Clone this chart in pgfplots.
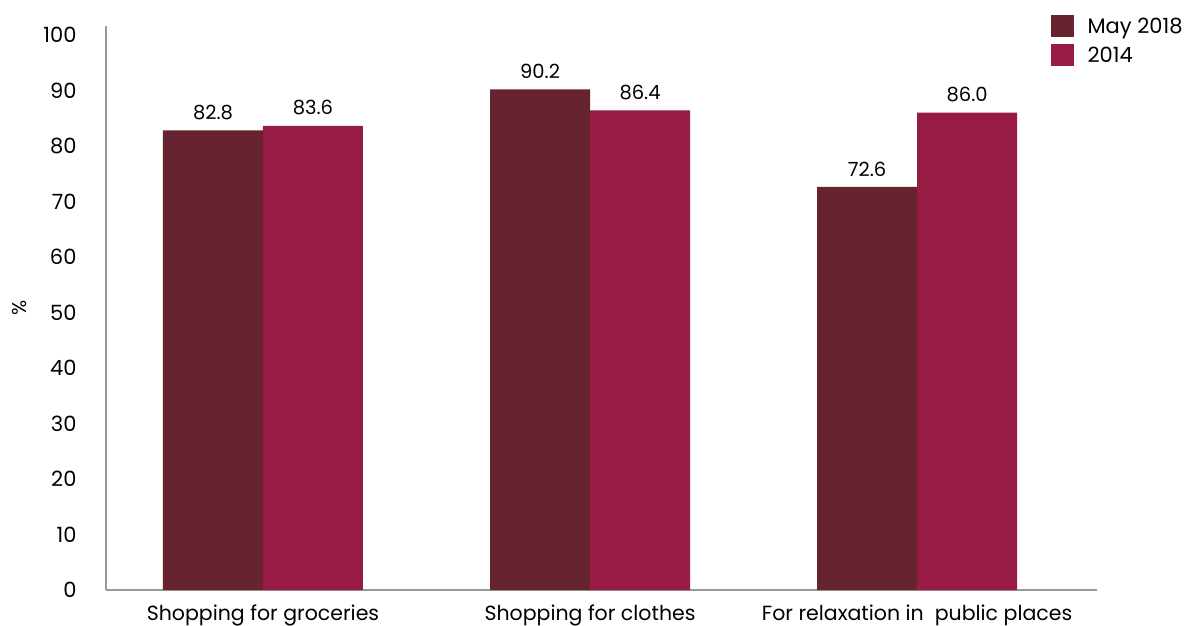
\documentclass[border=0pt]{standalone}
\usepackage{pgfplots}
\pgfplotsset{compat=1.18}
\usepackage{fontspec}
\setmainfont{Poppins}
\definecolor{darkwine}{HTML}{662330}
\definecolor{crimson}{HTML}{971B43}
\definecolor{axisgrey}{HTML}{999999}
\begin{document}
\begin{tikzpicture}
\useasboundingbox (-106pt,-35pt) rectangle (1089pt,590pt);
\begin{axis}[
  at={(0,0)}, anchor=south west,
  scale only axis,
  width=991pt, height=564pt,
  ybar=0pt, bar width=100pt,
  xmin=-0.48, xmax=2.55,
  ymin=0, ymax=101.6,
  axis x line*=bottom, axis y line*=left,
  axis line style={draw=axisgrey, line width=2pt, -},
  xtick={0,1,2},
  xticklabels={Shopping for groceries, Shopping for clothes, For relaxation in\ \ public places},
  ytick={0,10,...,100},
  major tick length=0pt,
  /pgf/number format/assume math mode=true,
  tick label style={text=black},
  yticklabel style={font=\fontsize{21}{23}\selectfont, anchor=east, xshift=-26pt},
  xticklabel style={font=\fontsize{20.5}{23}\selectfont, anchor=north, yshift=-11pt},
  ylabel={\%},
  ylabel style={font=\fontsize{20}{22}\selectfont, at={(axis description cs:-0.087,0.5)}, anchor=center},
  nodes near coords={\pgfmathprintnumber[fixed, fixed zerofill, precision=1]{\pgfplotspointmeta}},
  nodes near coords style={font=\fontsize{19.5}{21}\selectfont, text=black, yshift=7pt, /pgf/number format/assume math mode=true},
  legend style={at={(rel axis cs:0.953,1.02)}, anchor=north west, draw=none, fill=none,
    font=\fontsize{21}{23}\selectfont, row sep=7pt, inner sep=0pt,
    nodes={inner xsep=0pt, text depth=0pt}},
  legend cell align=left,
  legend image code/.code={\fill[#1] (0pt,-11pt) rectangle (23pt,11pt);},
  legend style={/tikz/every odd column/.append style={column sep=14pt}},
]
\addplot[fill=darkwine, draw=none] coordinates {(0,82.8) (1,90.2) (2,72.6)};
\addplot[fill=crimson, draw=none] coordinates {(0,83.6) (1,86.4) (2,86.0)};
\legend{May 2018, 2014}
\end{axis}
\end{tikzpicture}
\end{document}
